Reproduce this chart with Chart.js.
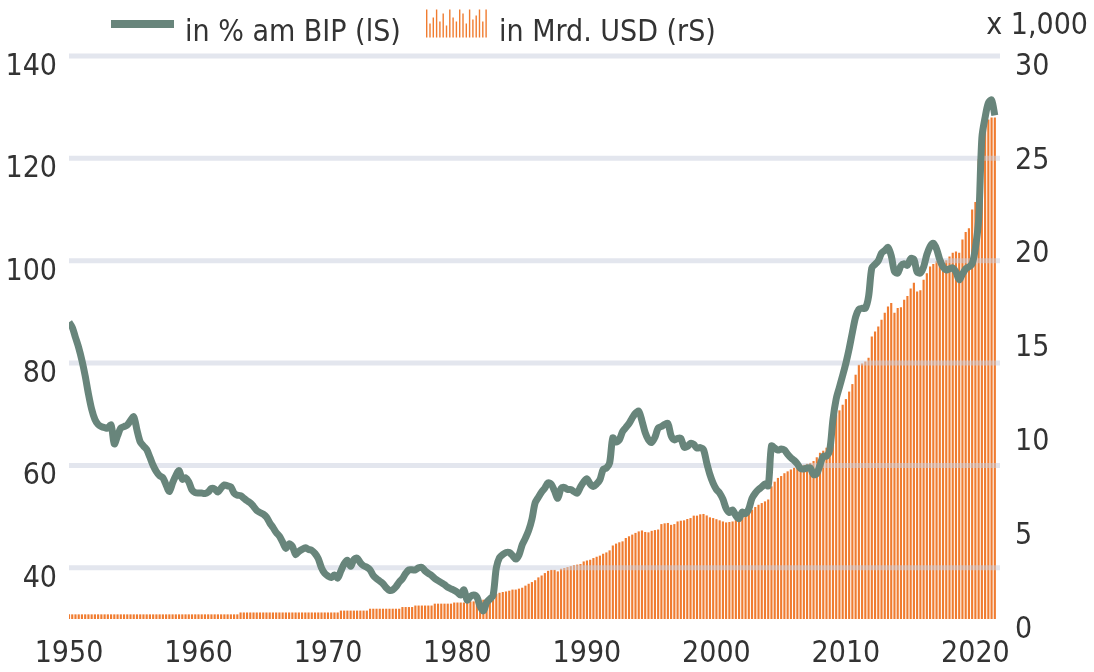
<!DOCTYPE html>
<html>
<head>
<meta charset="utf-8">
<script src="https://cdn.jsdelivr.net/npm/chart.js@4.4.1/dist/chart.umd.min.js"></script>
<style>
	html, body { margin: 0; padding: 0; background: #fff; }
</style>
</head>
<body>
<canvas id="canvas-element" width="1094" height="672"></canvas>
<script>
const kFirstYear = 1950; // first quarter of the series, one value per quarter

// federal debt in % of GDP (left scale), quarterly 1950 Q1 .. 2021 Q3
const pctGdp = [
	88, 87, 85, 83, 80.5, 77.5, 74, 71,
	69, 68, 67.6, 67.4, 67.3, 67.9, 64.2, 65.8,
	67.3, 67.6, 67.9, 68.8, 69.5, 66.9, 64.6, 63.8,
	63.1, 61.6, 60, 58.8, 58, 57.6, 56.2, 54.9,
	56.6, 58, 59, 57.3, 57.6, 56.8, 55.2, 54.7,
	54.6, 54.6, 54.5, 54.8, 55.5, 55.4, 54.8, 55.6,
	56.2, 56, 55.8, 54.6, 54.2, 54.1, 53.6, 53.1,
	52.7, 52, 51.2, 50.8, 50.5, 49.9, 48.8, 47.9,
	46.9, 46.2, 45, 43.8, 44.7, 44.2, 42.6, 43.2,
	43.6, 43.9, 43.6, 43.4, 42.8, 41.8, 40, 38.9,
	38.4, 38.1, 38.6, 38, 39.4, 40.8, 41.5, 40.3,
	41.6, 41.9, 41, 40.4, 40.1, 39.6, 38.5, 37.9,
	37.4, 36.9, 36.1, 35.6, 35.7, 36.3, 37.2, 37.9,
	38.9, 39.6, 39.6, 39.6, 40, 40.1, 39.4, 38.9,
	38.5, 37.9, 37.5, 37.1, 36.7, 36.2, 35.9, 35.6,
	35.2, 34.7, 35.7, 33.7, 34.4, 34.7, 34.3, 32.5,
	31.6, 33.2, 33.9, 34.6, 40, 42, 42.6, 43,
	43, 42.4, 41.7, 42.5, 44.5, 45.8, 47.3, 49.5,
	52.7, 53.8, 54.8, 55.6, 56.6, 56.3, 55, 53.6,
	55.5, 55.7, 55.3, 55.3, 54.9, 54.6, 55.8, 56.8,
	57.4, 56.4, 55.9, 56.4, 57.2, 59.2, 59.5, 60.5,
	65.4, 64.6, 65, 66.6, 67.4, 68.2, 69.3, 70.2,
	70.6, 68.7, 66.4, 65, 64.5, 65.5, 67.3, 67.6,
	68, 68.2, 65.8, 65, 65.3, 65.3, 63.6, 63.7,
	64.3, 64.1, 63.4, 63.5, 63.1, 60.5, 58.2, 56.5,
	55.3, 54.6, 53.4, 51.6, 50.8, 51.3, 50.2, 49.6,
	50.9, 50.6, 51.5, 53.6, 54.6, 55.3, 55.8, 56.4,
	56, 63.8, 63.4, 63, 63.2, 63, 62.2, 61.5,
	61, 60.3, 59.4, 59.3, 59.5, 59.5, 58.2, 58.4,
	60.1, 61.8, 61.8, 63, 69, 73, 75.3, 77.6,
	80, 82.8, 86, 89, 90.5, 90.7, 90.7, 93,
	98.6, 99.3, 100, 101.5, 102, 102.6, 101, 97.9,
	97.6, 99, 99.4, 99.1, 100.4, 100.3, 97.8, 97.6,
	98.8, 101.2, 102.8, 103.4, 102.3, 100.2, 98.8, 98.2,
	98.4, 98.6, 97.8, 96.3, 97.4, 98.4, 98.8, 99.4,
	102.5, 108, 124, 128, 130.8, 131.4, 128.4
];

// federal debt in bn USD x 1,000 (right scale), same quarters
const debtUsd = [
	0.23, 0.23, 0.23, 0.23, 0.23, 0.23, 0.23, 0.23,
	0.23, 0.23, 0.23, 0.23, 0.23, 0.23, 0.23, 0.23,
	0.23, 0.23, 0.23, 0.23, 0.23, 0.23, 0.23, 0.23,
	0.23, 0.23, 0.23, 0.23, 0.23, 0.23, 0.23, 0.23,
	0.23, 0.23, 0.23, 0.23, 0.23, 0.23, 0.23, 0.23,
	0.23, 0.23, 0.23, 0.23, 0.23, 0.23, 0.23, 0.23,
	0.23, 0.23, 0.23, 0.23, 0.23, 0.33, 0.33, 0.33,
	0.33, 0.33, 0.33, 0.33, 0.33, 0.33, 0.33, 0.33,
	0.33, 0.33, 0.33, 0.33, 0.33, 0.33, 0.33, 0.33,
	0.33, 0.33, 0.33, 0.33, 0.33, 0.33, 0.33, 0.33,
	0.33, 0.33, 0.33, 0.33, 0.43, 0.43, 0.43, 0.43,
	0.43, 0.43, 0.43, 0.43, 0.43, 0.53, 0.53, 0.53,
	0.53, 0.53, 0.53, 0.53, 0.53, 0.53, 0.53, 0.62,
	0.62, 0.62, 0.62, 0.70, 0.70, 0.70, 0.70, 0.70,
	0.70, 0.80, 0.80, 0.80, 0.80, 0.80, 0.80, 0.86,
	0.86, 0.86, 0.86, 0.92, 0.92, 0.92, 0.92, 0.92,
	1.01, 1.01, 1.01, 1.01, 1.33, 1.38, 1.42, 1.45,
	1.49, 1.55, 1.55, 1.6, 1.65, 1.76, 1.86, 1.95,
	2.05, 2.2, 2.3, 2.43, 2.55, 2.6, 2.6, 2.52,
	2.66, 2.7, 2.75, 2.8, 2.85, 2.88, 2.91, 3.05,
	3.1, 3.14, 3.23, 3.3, 3.36, 3.46, 3.53, 3.64,
	3.9, 4.0, 4.07, 4.12, 4.3, 4.39, 4.48, 4.57,
	4.65, 4.7, 4.62, 4.6, 4.68, 4.72, 4.75, 5.04,
	5.08, 5.1, 5.0, 5.04, 5.18, 5.22, 5.24, 5.31,
	5.36, 5.49, 5.49, 5.56, 5.58, 5.5, 5.4, 5.36,
	5.3, 5.24, 5.18, 5.13, 5.15, 5.18, 5.25, 5.36,
	5.45, 5.49, 5.63, 5.81, 5.95, 6.07, 6.16, 6.25,
	6.35, 7.05, 7.3, 7.5, 7.6, 7.75, 7.85, 7.95,
	8.04, 8.1, 8.15, 8.2, 8.25, 8.3, 8.4, 8.6,
	8.84, 8.95, 9.11, 9.25, 9.38, 10.87, 11.1, 11.4,
	11.7, 12.1, 12.5, 13.0, 13.53, 13.6, 13.71, 13.9,
	15.04, 15.3, 15.57, 15.93, 16.3, 16.64, 16.82, 16.3,
	16.56, 16.6, 17.0, 17.2, 17.6, 17.9, 17.44, 17.5,
	18.06, 18.4, 18.77, 18.9, 19.04, 19.1, 19.13, 19.1,
	19.3, 19.5, 19.57, 19.5, 20.2, 20.6, 20.8, 21.8,
	22.2, 24.5, 26.2, 26.4, 26.6, 26.7, 26.7
];

const kLeftTicks = [40, 60, 80, 100, 120, 140];
const kRightTicks = [0, 5, 10, 15, 20, 25, 30];
const kYearTicks = [1950, 1960, 1970, 1980, 1990, 2000, 2010, 2020];
const kLegendLabels = ["in % am BIP (lS)", "in Mrd. USD (rS)"];
const kRightUnit = "x 1,000";

const kLineCol = "#68857b";
const kBarCol = "#f07c30";
const kTextCol = "#333333";
const kGridCol = "rgba(200, 206, 222, 0.5)";
const kFont = "'DejaVu Sans Condensed', 'Liberation Sans Narrow', sans-serif";
const kFontSize = 30;

function toPoints(values) {
	return values.map((v, i) => ({x: kFirstYear + i / 4, y: v}));
}

function fixedTicks(list) {
	return (scale) => {
		scale.ticks = list.map((v) => ({value: v}));
	};
}

// grid of the left scale, drawn over the bars but under the line
const gridOverBars = {
	id: "gridOverBars",
	afterDatasetDraw(chart, args) {
		if (args.index !== 1) {
			return;
		}
		const {ctx, chartArea} = chart;
		const scale = chart.scales.yL;
		ctx.save();
		ctx.strokeStyle = kGridCol;
		ctx.lineWidth = 5;
		for (const v of kLeftTicks) {
			const y = scale.getPixelForValue(v);
			ctx.beginPath();
			ctx.moveTo(chartArea.left, y);
			ctx.lineTo(chartArea.right, y);
			ctx.stroke();
		}
		ctx.restore();
	}
};

// legend row and unit label of the right scale
const topLegend = {
	id: "topLegend",
	afterDraw(chart) {
		const ctx = chart.ctx;
		ctx.save();
		ctx.font = `${kFontSize}px ${kFont}`;
		ctx.textBaseline = "alphabetic";

		ctx.fillStyle = kLineCol;
		ctx.fillRect(111, 20, 63, 8);

		// small bar sample
		const heights = [28, 14, 20, 28, 16, 24, 12, 28, 20, 16, 28, 24, 14, 28, 18, 22, 28, 16, 28];
		ctx.fillStyle = kBarCol;
		heights.forEach((h, i) => {
			ctx.fillRect(426 + i * 3.3, 37.5 - h, 1.4, h);
		});

		ctx.fillStyle = kTextCol;
		ctx.textAlign = "left";
		ctx.fillText(kLegendLabels[0], 185, 41);
		ctx.fillText(kLegendLabels[1], 499, 41);

		ctx.textAlign = "right";
		ctx.fillText(kRightUnit, 1088, 34);
		ctx.restore();
	}
};

function renderChart() {
	const context = document.getElementById("canvas-element").getContext("2d");

	Chart.defaults.font.family = kFont;
	Chart.defaults.font.size = kFontSize;
	Chart.defaults.color = kTextCol;

	return new Chart(context, {
		type: "line",
		data: {
			datasets: [
				{
					type: "line",
					label: kLegendLabels[0],
					data: toPoints(pctGdp),
					yAxisID: "yL",
					borderColor: kLineCol,
					backgroundColor: "transparent",
					borderWidth: 7,
					borderJoinStyle: "round",
					pointRadius: 0,
					tension: 0.3,
					order: 0
				},
				{
					type: "bar",
					label: kLegendLabels[1],
					data: toPoints(debtUsd),
					yAxisID: "yR",
					backgroundColor: kBarCol,
					barThickness: 1.5,
					order: 1
				}
			]
		},
		options: {
			responsive: false,
			animation: false,
			layout: {
				padding: {top: 56, left: 0, right: 0, bottom: 0}
			},
			plugins: {
				legend: {display: false},
				tooltip: {enabled: false}
			},
			scales: {
				x: {
					type: "linear",
					min: 1950,
					max: 2021.9,
					offset: false,
					grid: {display: false, drawTicks: false},
					border: {display: false},
					ticks: {
						padding: 17,
						maxRotation: 0,
						autoSkip: false,
						callback: (v) => String(v)
					},
					afterBuildTicks: fixedTicks(kYearTicks),
					afterFit: (scale) => {
						scale.height = 53;
					}
				},
				yL: {
					position: "left",
					min: 30,
					max: 140,
					grid: {display: false, drawTicks: false},
					border: {display: false},
					ticks: {padding: 12, labelOffset: 11},
					afterBuildTicks: fixedTicks(kLeftTicks),
					afterFit: (scale) => {
						scale.width = 69;
					}
				},
				yR: {
					position: "right",
					min: 0,
					max: 30,
					grid: {display: false, drawTicks: false},
					border: {display: false},
					ticks: {padding: 15, labelOffset: 11},
					afterBuildTicks: fixedTicks(kRightTicks),
					afterFit: (scale) => {
						scale.width = 94;
					}
				}
			}
		},
		plugins: [gridOverBars, topLegend]
	});
}

renderChart();
</script>
</body>
</html>
